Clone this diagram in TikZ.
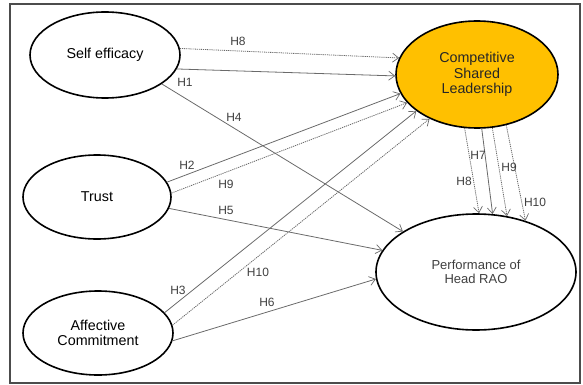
\documentclass[tikz,border=0pt]{standalone}
\usepackage{fontspec}
\setmainfont{Liberation Sans}
\usetikzlibrary{shapes.geometric,arrows.meta}
\definecolor{gold}{HTML}{FFC000}
\definecolor{linegray}{HTML}{6A6A6A}
\definecolor{labgray}{HTML}{3F3F3F}
\begin{document}
\begin{tikzpicture}[x=1pt,y=-1pt,
  construct/.style={ellipse,draw=black,line width=1.6pt,inner sep=0pt,align=center,
    font=\fontsize{14.3}{15.5}\selectfont},
  solidarrow/.style={draw=linegray,line width=0.8pt,-{Straight Barb[length=6pt,width=9pt,line width=0.7pt]}},
  dotarrow/.style={draw=linegray,line width=0.8pt,dash pattern=on 1.2pt off 0.9pt,-{Straight Barb[length=6pt,width=9pt,line width=0.7pt,sep=0pt]}},
  hlab/.style={font=\fontsize{12}{12}\selectfont,text=labgray,inner sep=0pt}]
\useasboundingbox (0,0) rectangle (583,385);
\draw[draw=black!70,line width=1.4pt] (10,4) rectangle (580,383);

\node[construct,minimum width=150pt,minimum height=86pt] (se) at (105,55) {Self efficacy};
\node[construct,minimum width=148pt,minimum height=84pt] (tr) at (97,197) {Trust};
\node[construct,minimum width=150pt,minimum height=84pt] (ac) at (98,333) {Affective\\Commitment};
\node[construct,fill=gold,text=black!85,minimum width=162pt,minimum height=107pt] (csl) at (477,74.5) {Competitive\\Shared\\Leadership};
\node[construct,text=labgray,minimum width=200pt,minimum height=116pt,font=\fontsize{13}{14.5}\selectfont] (perf) at (476,272) {Performance of\\Head RAO};

% Self efficacy
\draw[dotarrow] (se.5.3) -- (csl.168.8);
\draw[solidarrow] (se.-11.8) -- (csl.181.1);
\draw[solidarrow] (se.-27.8) -- (perf.151.7);
% Trust
\draw[solidarrow] (tr.12.7) -- (csl.194.7);
\draw[dotarrow] (tr.3.8) -- (csl.202.1);
\draw[solidarrow] (tr.-9.3) -- (perf.167.4);
% Affective commitment
\draw[solidarrow] (ac.17.4) -- (csl.211.8);
\draw[dotarrow] (ac.6.2) -- (csl.223.5);
\draw[solidarrow] (ac.-6.2) -- (perf.184.5);
% CSL to performance
\draw[dotarrow] (csl.257.6) -- (perf.87.1);
\draw[solidarrow] (csl.275.2) -- (perf.74.8);
\draw[dotarrow] (csl.286.4) -- (perf.61.5);
\draw[dotarrow] (csl.300.6) -- (perf.46.7);

% labels
\node[hlab] (l8a) at (238,41) {H8};
\node[hlab] (l1) at (185,82) {H1};
\node[hlab] (l4) at (234,117) {H4};
\node[hlab] (l2) at (187,165) {H2};
\node[hlab] (l9a) at (226,184) {H9};
\node[hlab] (l5) at (226,210) {H5};
\node[hlab] (l3) at (178,290) {H3};
\node[hlab] (l10a) at (258,272) {H10};
\node[hlab] (l6) at (267,302) {H6};
\node[hlab] (l7) at (478,155) {H7};
\node[hlab] (l9b) at (509,167) {H9};
\node[hlab] (l8b) at (464,181) {H8};
\node[hlab] (l10b) at (535,202) {H10};
\end{tikzpicture}
\end{document}
